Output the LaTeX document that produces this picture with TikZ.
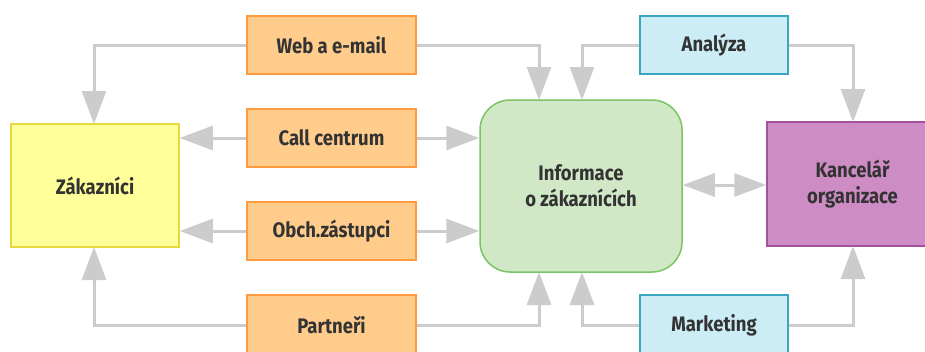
\documentclass[tikz,border=0pt]{standalone}
\usepackage{fontspec}
\setmainfont{Fira Sans}[FakeStretch=0.88]
\usetikzlibrary{arrows.meta}
\definecolor{arrowgray}{HTML}{CCCCCC}
\definecolor{orfill}{HTML}{FFCC8C}
\definecolor{ordraw}{HTML}{FF9A40}
\definecolor{yefill}{HTML}{FFFF99}
\definecolor{yedraw}{HTML}{E8D840}
\definecolor{grfill}{HTML}{D0E8C6}
\definecolor{grdraw}{HTML}{7CC466}
\definecolor{blfill}{HTML}{CCECF6}
\definecolor{bldraw}{HTML}{3AA6C0}
\definecolor{pufill}{HTML}{CE8CC4}
\definecolor{pudraw}{HTML}{A4509C}
\definecolor{txt}{HTML}{333333}
\begin{document}
\begin{tikzpicture}[x=1pt,y=-1pt,
  boxtext/.style={font=\bfseries\fontsize{21}{26}\selectfont, text=txt, align=center},
  orangebox/.style={boxtext, draw=ordraw, fill=orfill, line width=1.5pt, minimum width=169pt, minimum height=58pt, inner sep=0pt},
  bluebox/.style={boxtext, draw=bldraw, fill=blfill, line width=1.5pt, minimum width=148pt, minimum height=58pt, inner sep=0pt},
  conn/.style={draw=arrowgray, line width=3pt, -{Triangle[length=33pt,width=24pt]}},
  dconn/.style={draw=arrowgray, line width=3pt, {Triangle[length=32pt,width=23pt]}-{Triangle[length=32pt,width=23pt]}},
]
\useasboundingbox (0,0) rectangle (925,351);
\clip (0,0) rectangle (925,351);
\fill[white] (0,0) rectangle (925,351);
% nodes
\node[orangebox] (web) at (331.5,45) {Web a e-mail};
\node[orangebox] (call) at (331.5,138) {Call centrum};
\node[orangebox] (obch) at (331.5,231) {Obch.zástupci};
\node[orangebox, minimum height=60pt] (part) at (331.5,325) {Partneři};
\node[bluebox] (anal) at (714,45) {Analýza};
\node[bluebox, minimum height=60pt] (mark) at (714,325) {Marketing};
\node[boxtext, draw=yedraw, fill=yefill, line width=1.5pt, minimum width=168pt, minimum height=123pt, inner sep=0pt] (zak) at (95,185.5) {Zákazníci};
\node[boxtext, draw=grdraw, fill=grfill, line width=1.5pt, rounded corners=30pt, minimum width=202pt, minimum height=172pt, inner sep=0pt] (info) at (581,186) {Informace\\o zákaznících};
\node[boxtext, draw=pudraw, fill=pufill, line width=1.5pt, minimum width=171pt, minimum height=124pt, inner sep=0pt] (kanc) at (852.5,184) {Kancelář\\organizace};
% coordinates
\coordinate (zt) at (94,124);
\coordinate (zb) at (94,247);
\coordinate (it1) at (539,100);
\coordinate (it2) at (582,100);
\coordinate (ib1) at (539,272);
\coordinate (ib2) at (582,272);
\coordinate (kt) at (853,122);
\coordinate (kb) at (853,246);
% connectors
\draw[conn] (web.west) -| (zt);
\draw[conn] (web.east) -| (it1);
\draw[conn] (call.west) -- (call.west -| zak.east);
\draw[conn] (call.east) -- (call.east -| info.west);
\draw[conn] (obch.west) -- (obch.west -| zak.east);
\draw[conn] (obch.east) -- (obch.east -| info.west);
\draw[conn] (part.west) -| (zb);
\draw[conn] (part.east) -| (ib1);
\draw[conn] (anal.west) -| (it2);
\draw[conn] (anal.east) -| (kt);
\draw[conn] (mark.west) -| (ib2);
\draw[conn] (mark.east) -| (kb);
\draw[dconn] (info.east |- 0,185) -- (kanc.west |- 0,185);
\end{tikzpicture}
\end{document}
